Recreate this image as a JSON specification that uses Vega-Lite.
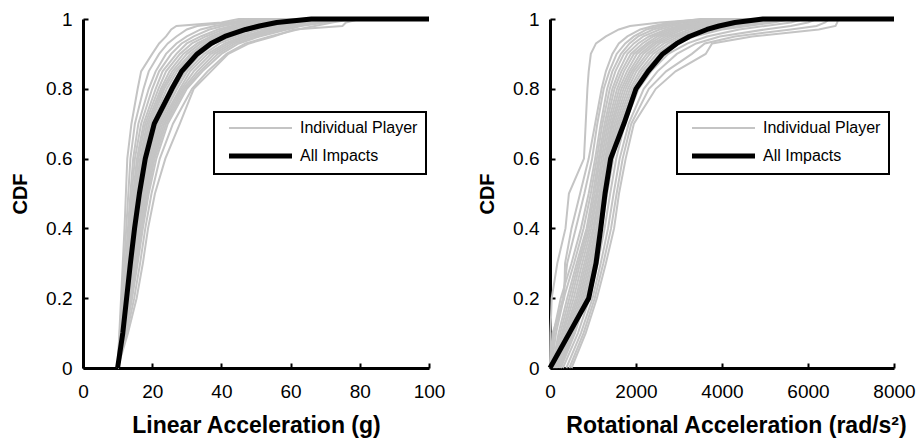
{
"$schema": "https://vega.github.io/schema/vega-lite/v6.json",
"background": "white",
"padding": {"left": 10, "top": 10, "right": 5, "bottom": 5},
"spacing": 121,
"bounds": "flush",
"resolve": {"scale": {"color": "independent"}, "legend": {"color": "independent"}},
"config": {
 "view": {"stroke": null},
 "font": "Liberation Sans",
 "axis": {"domainColor": "black", "domainWidth": 3, "tickColor": "black", "tickWidth": 2, "tickSize": -5, "labelColor": "black", "labelFont": "Liberation Sans", "labelFontSize": 19, "titleFont": "Liberation Sans", "titleFontWeight": "bold", "titleColor": "black", "grid": false, "labelFlush": false},
 "axisX": {"labelPadding": 19, "titlePadding": 13, "titleFontSize": 23},
 "axisY": {"labelPadding": 16, "titlePadding": 15, "titleFontSize": 20},
 "legend": {"orient": "none", "strokeColor": "black", "strokeWidth": 2, "fillColor": "white", "padding": 8, "labelFont": "Liberation Sans", "labelFontSize": 16, "labelColor": "black", "rowPadding": 10, "symbolType": "M -1 0 L 8 0", "symbolSize": 196, "symbolOffset": 6, "labelOffset": 56, "labelLimit": 300}
},
"datasets": {
 "who": [
  {"p":1,"s":"Individual Player"},{"p":2,"s":"Individual Player"},{"p":3,"s":"Individual Player"},{"p":4,"s":"Individual Player"},{"p":5,"s":"Individual Player"},{"p":6,"s":"Individual Player"},{"p":7,"s":"Individual Player"},{"p":8,"s":"Individual Player"},{"p":9,"s":"Individual Player"},{"p":10,"s":"Individual Player"},{"p":11,"s":"Individual Player"},{"p":12,"s":"Individual Player"},{"p":13,"s":"Individual Player"},{"p":14,"s":"Individual Player"},{"p":15,"s":"Individual Player"},{"p":16,"s":"Individual Player"},{"p":17,"s":"Individual Player"},{"p":18,"s":"Individual Player"},{"p":19,"s":"Individual Player"},{"p":20,"s":"Individual Player"},{"p":0,"s":"All Impacts"}
 ],
 "L": [
  {"p":1,"x":10,"y":0},{"p":1,"x":10.5,"y":0.1},{"p":1,"x":11,"y":0.2},{"p":1,"x":11.5,"y":0.3},{"p":1,"x":12,"y":0.4},{"p":1,"x":12.4,"y":0.5},{"p":1,"x":12.8,"y":0.6},{"p":1,"x":14,"y":0.7},{"p":1,"x":15.8,"y":0.8},{"p":1,"x":16.8,"y":0.85},{"p":1,"x":20,"y":0.9},{"p":1,"x":22,"y":0.93},{"p":1,"x":24,"y":0.95},{"p":1,"x":25.5,"y":0.97},{"p":1,"x":27,"y":0.98},{"p":1,"x":40,"y":0.99},{"p":1,"x":45,"y":1},{"p":1,"x":100,"y":1},
  {"p":2,"x":10,"y":0},{"p":2,"x":10.8,"y":0.1},{"p":2,"x":11.6,"y":0.2},{"p":2,"x":12.3,"y":0.3},{"p":2,"x":13,"y":0.4},{"p":2,"x":13.7,"y":0.5},{"p":2,"x":14.5,"y":0.6},{"p":2,"x":16,"y":0.7},{"p":2,"x":19,"y":0.8},{"p":2,"x":21,"y":0.85},{"p":2,"x":24,"y":0.9},{"p":2,"x":27,"y":0.93},{"p":2,"x":30,"y":0.95},{"p":2,"x":34,"y":0.97},{"p":2,"x":38,"y":0.98},{"p":2,"x":44,"y":0.99},{"p":2,"x":52,"y":1},{"p":2,"x":100,"y":1},
  {"p":3,"x":10,"y":0},{"p":3,"x":11,"y":0.1},{"p":3,"x":12,"y":0.2},{"p":3,"x":12.8,"y":0.3},{"p":3,"x":13.6,"y":0.4},{"p":3,"x":14.5,"y":0.5},{"p":3,"x":15.6,"y":0.6},{"p":3,"x":17.5,"y":0.7},{"p":3,"x":21,"y":0.8},{"p":3,"x":23,"y":0.85},{"p":3,"x":27,"y":0.9},{"p":3,"x":30,"y":0.93},{"p":3,"x":34,"y":0.95},{"p":3,"x":39,"y":0.97},{"p":3,"x":43,"y":0.98},{"p":3,"x":48,"y":0.99},{"p":3,"x":56,"y":1},{"p":3,"x":100,"y":1},
  {"p":4,"x":10,"y":0},{"p":4,"x":11.2,"y":0.1},{"p":4,"x":12.2,"y":0.2},{"p":4,"x":13.2,"y":0.3},{"p":4,"x":14.2,"y":0.4},{"p":4,"x":15.2,"y":0.5},{"p":4,"x":16.5,"y":0.6},{"p":4,"x":18.5,"y":0.7},{"p":4,"x":22.5,"y":0.8},{"p":4,"x":25,"y":0.85},{"p":4,"x":29,"y":0.9},{"p":4,"x":33,"y":0.93},{"p":4,"x":37,"y":0.95},{"p":4,"x":42,"y":0.97},{"p":4,"x":46,"y":0.98},{"p":4,"x":52,"y":0.99},{"p":4,"x":60,"y":1},{"p":4,"x":100,"y":1},
  {"p":5,"x":10,"y":0},{"p":5,"x":11.3,"y":0.1},{"p":5,"x":12.5,"y":0.2},{"p":5,"x":13.5,"y":0.3},{"p":5,"x":14.6,"y":0.4},{"p":5,"x":15.8,"y":0.5},{"p":5,"x":17.2,"y":0.6},{"p":5,"x":19.5,"y":0.7},{"p":5,"x":23.5,"y":0.8},{"p":5,"x":26.5,"y":0.85},{"p":5,"x":31,"y":0.9},{"p":5,"x":35,"y":0.93},{"p":5,"x":39,"y":0.95},{"p":5,"x":45,"y":0.97},{"p":5,"x":50,"y":0.98},{"p":5,"x":57,"y":0.99},{"p":5,"x":64,"y":1},{"p":5,"x":100,"y":1},
  {"p":6,"x":10,"y":0},{"p":6,"x":11.5,"y":0.1},{"p":6,"x":12.8,"y":0.2},{"p":6,"x":14,"y":0.3},{"p":6,"x":15.2,"y":0.4},{"p":6,"x":16.5,"y":0.5},{"p":6,"x":18,"y":0.6},{"p":6,"x":20.5,"y":0.7},{"p":6,"x":25,"y":0.8},{"p":6,"x":28,"y":0.85},{"p":6,"x":32,"y":0.9},{"p":6,"x":36,"y":0.93},{"p":6,"x":40,"y":0.95},{"p":6,"x":46,"y":0.97},{"p":6,"x":52,"y":0.98},{"p":6,"x":60,"y":0.99},{"p":6,"x":68,"y":1},{"p":6,"x":100,"y":1},
  {"p":7,"x":10,"y":0},{"p":7,"x":11.6,"y":0.1},{"p":7,"x":13,"y":0.2},{"p":7,"x":14.3,"y":0.3},{"p":7,"x":15.6,"y":0.4},{"p":7,"x":17,"y":0.5},{"p":7,"x":18.7,"y":0.6},{"p":7,"x":21.5,"y":0.7},{"p":7,"x":26.5,"y":0.8},{"p":7,"x":29.5,"y":0.85},{"p":7,"x":34,"y":0.9},{"p":7,"x":38,"y":0.93},{"p":7,"x":43,"y":0.95},{"p":7,"x":49,"y":0.97},{"p":7,"x":55,"y":0.98},{"p":7,"x":62,"y":0.99},{"p":7,"x":70,"y":1},{"p":7,"x":100,"y":1},
  {"p":8,"x":10,"y":0},{"p":8,"x":11.8,"y":0.1},{"p":8,"x":13.3,"y":0.2},{"p":8,"x":14.7,"y":0.3},{"p":8,"x":16,"y":0.4},{"p":8,"x":17.6,"y":0.5},{"p":8,"x":19.5,"y":0.6},{"p":8,"x":22.5,"y":0.7},{"p":8,"x":28,"y":0.8},{"p":8,"x":31,"y":0.85},{"p":8,"x":36,"y":0.9},{"p":8,"x":41,"y":0.93},{"p":8,"x":46,"y":0.95},{"p":8,"x":53,"y":0.97},{"p":8,"x":58,"y":0.98},{"p":8,"x":66,"y":0.99},{"p":8,"x":72,"y":1},{"p":8,"x":100,"y":1},
  {"p":9,"x":10,"y":0},{"p":9,"x":12,"y":0.1},{"p":9,"x":13.7,"y":0.2},{"p":9,"x":15.2,"y":0.3},{"p":9,"x":16.6,"y":0.4},{"p":9,"x":18.2,"y":0.5},{"p":9,"x":20.3,"y":0.6},{"p":9,"x":23.5,"y":0.7},{"p":9,"x":29,"y":0.8},{"p":9,"x":33,"y":0.85},{"p":9,"x":38,"y":0.9},{"p":9,"x":43,"y":0.93},{"p":9,"x":48,"y":0.95},{"p":9,"x":56,"y":0.97},{"p":9,"x":61,"y":0.98},{"p":9,"x":67,"y":0.99},{"p":9,"x":74,"y":1},{"p":9,"x":100,"y":1},
  {"p":10,"x":10,"y":0},{"p":10,"x":12.3,"y":0.1},{"p":10,"x":14.2,"y":0.2},{"p":10,"x":15.8,"y":0.3},{"p":10,"x":17.3,"y":0.4},{"p":10,"x":19,"y":0.5},{"p":10,"x":21.2,"y":0.6},{"p":10,"x":24.5,"y":0.7},{"p":10,"x":30,"y":0.8},{"p":10,"x":34.5,"y":0.85},{"p":10,"x":40,"y":0.9},{"p":10,"x":45,"y":0.93},{"p":10,"x":51,"y":0.95},{"p":10,"x":59,"y":0.97},{"p":10,"x":63,"y":0.98},{"p":10,"x":70,"y":0.99},{"p":10,"x":76,"y":1},{"p":10,"x":100,"y":1},
  {"p":11,"x":10,"y":0},{"p":11,"x":12.6,"y":0.1},{"p":11,"x":14.8,"y":0.2},{"p":11,"x":16.5,"y":0.3},{"p":11,"x":18,"y":0.4},{"p":11,"x":19.8,"y":0.5},{"p":11,"x":22.2,"y":0.6},{"p":11,"x":26,"y":0.7},{"p":11,"x":31.5,"y":0.8},{"p":11,"x":36,"y":0.85},{"p":11,"x":41.5,"y":0.9},{"p":11,"x":47,"y":0.93},{"p":11,"x":54,"y":0.95},{"p":11,"x":62,"y":0.97},{"p":11,"x":67,"y":0.98},{"p":11,"x":72,"y":0.99},{"p":11,"x":78,"y":1},{"p":11,"x":100,"y":1},
  {"p":12,"x":10,"y":0},{"p":12,"x":13,"y":0.1},{"p":12,"x":15.5,"y":0.2},{"p":12,"x":17.3,"y":0.3},{"p":12,"x":18.8,"y":0.4},{"p":12,"x":20.8,"y":0.5},{"p":12,"x":23.8,"y":0.6},{"p":12,"x":28,"y":0.7},{"p":12,"x":32,"y":0.8},{"p":12,"x":37,"y":0.85},{"p":12,"x":42,"y":0.9},{"p":12,"x":48,"y":0.93},{"p":12,"x":55,"y":0.95},{"p":12,"x":61,"y":0.97},{"p":12,"x":75,"y":0.98},{"p":12,"x":76,"y":0.99},{"p":12,"x":80,"y":1},{"p":12,"x":100,"y":1},
  {"p":13,"x":10,"y":0},{"p":13,"x":11.1,"y":0.1},{"p":13,"x":12.1,"y":0.2},{"p":13,"x":13,"y":0.3},{"p":13,"x":13.9,"y":0.4},{"p":13,"x":14.9,"y":0.5},{"p":13,"x":16,"y":0.6},{"p":13,"x":18,"y":0.7},{"p":13,"x":21.8,"y":0.8},{"p":13,"x":24,"y":0.85},{"p":13,"x":28,"y":0.9},{"p":13,"x":31.5,"y":0.93},{"p":13,"x":35.5,"y":0.95},{"p":13,"x":40.5,"y":0.97},{"p":13,"x":44.5,"y":0.98},{"p":13,"x":50,"y":0.99},{"p":13,"x":58,"y":1},{"p":13,"x":100,"y":1},
  {"p":14,"x":10,"y":0},{"p":14,"x":11.4,"y":0.1},{"p":14,"x":12.6,"y":0.2},{"p":14,"x":13.8,"y":0.3},{"p":14,"x":14.9,"y":0.4},{"p":14,"x":16.1,"y":0.5},{"p":14,"x":17.6,"y":0.6},{"p":14,"x":20,"y":0.7},{"p":14,"x":24.2,"y":0.8},{"p":14,"x":27.2,"y":0.85},{"p":14,"x":31.5,"y":0.9},{"p":14,"x":35.5,"y":0.93},{"p":14,"x":39.5,"y":0.95},{"p":14,"x":45.5,"y":0.97},{"p":14,"x":51,"y":0.98},{"p":14,"x":58,"y":0.99},{"p":14,"x":66,"y":1},{"p":14,"x":100,"y":1},
  {"p":15,"x":10,"y":0},{"p":15,"x":11.7,"y":0.1},{"p":15,"x":13.1,"y":0.2},{"p":15,"x":14.5,"y":0.3},{"p":15,"x":15.8,"y":0.4},{"p":15,"x":17.3,"y":0.5},{"p":15,"x":19.1,"y":0.6},{"p":15,"x":22,"y":0.7},{"p":15,"x":27.2,"y":0.8},{"p":15,"x":30.2,"y":0.85},{"p":15,"x":35,"y":0.9},{"p":15,"x":39.5,"y":0.93},{"p":15,"x":44.5,"y":0.95},{"p":15,"x":51,"y":0.97},{"p":15,"x":56.5,"y":0.98},{"p":15,"x":64,"y":0.99},{"p":15,"x":71,"y":1},{"p":15,"x":100,"y":1},
  {"p":16,"x":10,"y":0},{"p":16,"x":10.9,"y":0.1},{"p":16,"x":11.8,"y":0.2},{"p":16,"x":12.6,"y":0.3},{"p":16,"x":13.3,"y":0.4},{"p":16,"x":14.1,"y":0.5},{"p":16,"x":15,"y":0.6},{"p":16,"x":16.8,"y":0.7},{"p":16,"x":20,"y":0.8},{"p":16,"x":22,"y":0.85},{"p":16,"x":25.5,"y":0.9},{"p":16,"x":28.5,"y":0.93},{"p":16,"x":32,"y":0.95},{"p":16,"x":36.5,"y":0.97},{"p":16,"x":40.5,"y":0.98},{"p":16,"x":46,"y":0.99},{"p":16,"x":54,"y":1},{"p":16,"x":100,"y":1},
  {"p":17,"x":10,"y":0},{"p":17,"x":12.1,"y":0.1},{"p":17,"x":14,"y":0.2},{"p":17,"x":15.5,"y":0.3},{"p":17,"x":17,"y":0.4},{"p":17,"x":18.6,"y":0.5},{"p":17,"x":20.7,"y":0.6},{"p":17,"x":24,"y":0.7},{"p":17,"x":29.5,"y":0.8},{"p":17,"x":33.8,"y":0.85},{"p":17,"x":39,"y":0.9},{"p":17,"x":44,"y":0.93},{"p":17,"x":49.5,"y":0.95},{"p":17,"x":57.5,"y":0.97},{"p":17,"x":62,"y":0.98},{"p":17,"x":68.5,"y":0.99},{"p":17,"x":75,"y":1},{"p":17,"x":100,"y":1},
  {"p":18,"x":10,"y":0},{"p":18,"x":10.6,"y":0.1},{"p":18,"x":11.3,"y":0.2},{"p":18,"x":11.9,"y":0.3},{"p":18,"x":12.5,"y":0.4},{"p":18,"x":13.1,"y":0.5},{"p":18,"x":13.7,"y":0.6},{"p":18,"x":15,"y":0.7},{"p":18,"x":17.5,"y":0.8},{"p":18,"x":19,"y":0.85},{"p":18,"x":22,"y":0.9},{"p":18,"x":24.5,"y":0.93},{"p":18,"x":27,"y":0.95},{"p":18,"x":30,"y":0.97},{"p":18,"x":33,"y":0.98},{"p":18,"x":42,"y":0.99},{"p":18,"x":48,"y":1},{"p":18,"x":100,"y":1},
  {"p":19,"x":10,"y":0},{"p":19,"x":11.9,"y":0.1},{"p":19,"x":13.5,"y":0.2},{"p":19,"x":15,"y":0.3},{"p":19,"x":16.3,"y":0.4},{"p":19,"x":17.9,"y":0.5},{"p":19,"x":19.9,"y":0.6},{"p":19,"x":23,"y":0.7},{"p":19,"x":28.5,"y":0.8},{"p":19,"x":32,"y":0.85},{"p":19,"x":37,"y":0.9},{"p":19,"x":42,"y":0.93},{"p":19,"x":47,"y":0.95},{"p":19,"x":54.5,"y":0.97},{"p":19,"x":59.5,"y":0.98},{"p":19,"x":66.5,"y":0.99},{"p":19,"x":73,"y":1},{"p":19,"x":100,"y":1},
  {"p":20,"x":10,"y":0},{"p":20,"x":11.25,"y":0.1},{"p":20,"x":12.35,"y":0.2},{"p":20,"x":13.35,"y":0.3},{"p":20,"x":14.4,"y":0.4},{"p":20,"x":15.5,"y":0.5},{"p":20,"x":16.85,"y":0.6},{"p":20,"x":19,"y":0.7},{"p":20,"x":23,"y":0.8},{"p":20,"x":25.8,"y":0.85},{"p":20,"x":30,"y":0.9},{"p":20,"x":34,"y":0.93},{"p":20,"x":38,"y":0.95},{"p":20,"x":43.5,"y":0.97},{"p":20,"x":48,"y":0.98},{"p":20,"x":54.5,"y":0.99},{"p":20,"x":62,"y":1},{"p":20,"x":100,"y":1}
 ],
 "LA": [
  {"p":0,"x":10,"y":0},{"p":0,"x":11.5,"y":0.1},{"p":0,"x":12.6,"y":0.2},{"p":0,"x":13.7,"y":0.3},{"p":0,"x":14.9,"y":0.4},{"p":0,"x":16.3,"y":0.5},{"p":0,"x":18,"y":0.6},{"p":0,"x":20.6,"y":0.7},{"p":0,"x":25.7,"y":0.8},{"p":0,"x":28.5,"y":0.85},{"p":0,"x":33,"y":0.9},{"p":0,"x":37,"y":0.93},{"p":0,"x":41,"y":0.95},{"p":0,"x":47,"y":0.97},{"p":0,"x":51,"y":0.98},{"p":0,"x":56,"y":0.99},{"p":0,"x":66,"y":1},{"p":0,"x":100,"y":1}
 ],
 "R": [
  {"p":1,"x":0,"y":0},{"p":1,"x":10,"y":0.1},{"p":1,"x":40,"y":0.2},{"p":1,"x":170,"y":0.3},{"p":1,"x":360,"y":0.4},{"p":1,"x":440,"y":0.5},{"p":1,"x":790,"y":0.6},{"p":1,"x":830,"y":0.7},{"p":1,"x":870,"y":0.8},{"p":1,"x":900,"y":0.85},{"p":1,"x":950,"y":0.9},{"p":1,"x":1070,"y":0.93},{"p":1,"x":1300,"y":0.95},{"p":1,"x":1600,"y":0.97},{"p":1,"x":1860,"y":0.98},{"p":1,"x":2560,"y":0.99},{"p":1,"x":3640,"y":1},{"p":1,"x":8000,"y":1},
  {"p":2,"x":1,"y":0},{"p":2,"x":80,"y":0.1},{"p":2,"x":250,"y":0.2},{"p":2,"x":500,"y":0.3},{"p":2,"x":720,"y":0.4},{"p":2,"x":900,"y":0.5},{"p":2,"x":1050,"y":0.6},{"p":2,"x":1180,"y":0.7},{"p":2,"x":1330,"y":0.8},{"p":2,"x":1450,"y":0.85},{"p":2,"x":1650,"y":0.9},{"p":2,"x":1850,"y":0.93},{"p":2,"x":2050,"y":0.95},{"p":2,"x":2400,"y":0.97},{"p":2,"x":2700,"y":0.98},{"p":2,"x":3100,"y":0.99},{"p":2,"x":3800,"y":1},{"p":2,"x":8000,"y":1},
  {"p":3,"x":50,"y":0},{"p":3,"x":200,"y":0.1},{"p":3,"x":400,"y":0.2},{"p":3,"x":620,"y":0.3},{"p":3,"x":850,"y":0.4},{"p":3,"x":1000,"y":0.5},{"p":3,"x":1130,"y":0.6},{"p":3,"x":1270,"y":0.7},{"p":3,"x":1450,"y":0.8},{"p":3,"x":1600,"y":0.85},{"p":3,"x":1800,"y":0.9},{"p":3,"x":2050,"y":0.93},{"p":3,"x":2300,"y":0.95},{"p":3,"x":2700,"y":0.97},{"p":3,"x":3000,"y":0.98},{"p":3,"x":3500,"y":0.99},{"p":3,"x":4200,"y":1},{"p":3,"x":8000,"y":1},
  {"p":4,"x":80,"y":0},{"p":4,"x":280,"y":0.1},{"p":4,"x":500,"y":0.2},{"p":4,"x":700,"y":0.3},{"p":4,"x":920,"y":0.4},{"p":4,"x":1080,"y":0.5},{"p":4,"x":1200,"y":0.6},{"p":4,"x":1350,"y":0.7},{"p":4,"x":1560,"y":0.8},{"p":4,"x":1720,"y":0.85},{"p":4,"x":1950,"y":0.9},{"p":4,"x":2250,"y":0.93},{"p":4,"x":2500,"y":0.95},{"p":4,"x":2900,"y":0.97},{"p":4,"x":3200,"y":0.98},{"p":4,"x":3800,"y":0.99},{"p":4,"x":4500,"y":1},{"p":4,"x":8000,"y":1},
  {"p":5,"x":120,"y":0},{"p":5,"x":350,"y":0.1},{"p":5,"x":600,"y":0.2},{"p":5,"x":800,"y":0.3},{"p":5,"x":1000,"y":0.4},{"p":5,"x":1150,"y":0.5},{"p":5,"x":1280,"y":0.6},{"p":5,"x":1430,"y":0.7},{"p":5,"x":1660,"y":0.8},{"p":5,"x":1850,"y":0.85},{"p":5,"x":2100,"y":0.9},{"p":5,"x":2400,"y":0.93},{"p":5,"x":2700,"y":0.95},{"p":5,"x":3100,"y":0.97},{"p":5,"x":3500,"y":0.98},{"p":5,"x":4100,"y":0.99},{"p":5,"x":4800,"y":1},{"p":5,"x":8000,"y":1},
  {"p":6,"x":150,"y":0},{"p":6,"x":420,"y":0.1},{"p":6,"x":680,"y":0.2},{"p":6,"x":880,"y":0.3},{"p":6,"x":1070,"y":0.4},{"p":6,"x":1210,"y":0.5},{"p":6,"x":1340,"y":0.6},{"p":6,"x":1500,"y":0.7},{"p":6,"x":1760,"y":0.8},{"p":6,"x":1950,"y":0.85},{"p":6,"x":2250,"y":0.9},{"p":6,"x":2550,"y":0.93},{"p":6,"x":2900,"y":0.95},{"p":6,"x":3400,"y":0.97},{"p":6,"x":3800,"y":0.98},{"p":6,"x":4400,"y":0.99},{"p":6,"x":5100,"y":1},{"p":6,"x":8000,"y":1},
  {"p":7,"x":200,"y":0},{"p":7,"x":500,"y":0.1},{"p":7,"x":760,"y":0.2},{"p":7,"x":960,"y":0.3},{"p":7,"x":1130,"y":0.4},{"p":7,"x":1270,"y":0.5},{"p":7,"x":1400,"y":0.6},{"p":7,"x":1580,"y":0.7},{"p":7,"x":1860,"y":0.8},{"p":7,"x":2080,"y":0.85},{"p":7,"x":2400,"y":0.9},{"p":7,"x":2750,"y":0.93},{"p":7,"x":3100,"y":0.95},{"p":7,"x":3700,"y":0.97},{"p":7,"x":4200,"y":0.98},{"p":7,"x":4800,"y":0.99},{"p":7,"x":5400,"y":1},{"p":7,"x":8000,"y":1},
  {"p":8,"x":250,"y":0},{"p":8,"x":580,"y":0.1},{"p":8,"x":840,"y":0.2},{"p":8,"x":1040,"y":0.3},{"p":8,"x":1200,"y":0.4},{"p":8,"x":1330,"y":0.5},{"p":8,"x":1470,"y":0.6},{"p":8,"x":1660,"y":0.7},{"p":8,"x":1960,"y":0.8},{"p":8,"x":2200,"y":0.85},{"p":8,"x":2550,"y":0.9},{"p":8,"x":2950,"y":0.93},{"p":8,"x":3350,"y":0.95},{"p":8,"x":4000,"y":0.97},{"p":8,"x":4600,"y":0.98},{"p":8,"x":5200,"y":0.99},{"p":8,"x":5600,"y":1},{"p":8,"x":8000,"y":1},
  {"p":9,"x":300,"y":0},{"p":9,"x":650,"y":0.1},{"p":9,"x":920,"y":0.2},{"p":9,"x":1110,"y":0.3},{"p":9,"x":1270,"y":0.4},{"p":9,"x":1400,"y":0.5},{"p":9,"x":1540,"y":0.6},{"p":9,"x":1740,"y":0.7},{"p":9,"x":2060,"y":0.8},{"p":9,"x":2350,"y":0.85},{"p":9,"x":2750,"y":0.9},{"p":9,"x":3200,"y":0.93},{"p":9,"x":3650,"y":0.95},{"p":9,"x":4400,"y":0.97},{"p":9,"x":5000,"y":0.98},{"p":9,"x":5600,"y":0.99},{"p":9,"x":5900,"y":1},{"p":9,"x":8000,"y":1},
  {"p":10,"x":380,"y":0},{"p":10,"x":720,"y":0.1},{"p":10,"x":990,"y":0.2},{"p":10,"x":1180,"y":0.3},{"p":10,"x":1350,"y":0.4},{"p":10,"x":1480,"y":0.5},{"p":10,"x":1620,"y":0.6},{"p":10,"x":1830,"y":0.7},{"p":10,"x":2180,"y":0.8},{"p":10,"x":2500,"y":0.85},{"p":10,"x":2950,"y":0.9},{"p":10,"x":3400,"y":0.93},{"p":10,"x":3950,"y":0.95},{"p":10,"x":5000,"y":0.97},{"p":10,"x":5600,"y":0.98},{"p":10,"x":6000,"y":0.99},{"p":10,"x":6200,"y":1},{"p":10,"x":8000,"y":1},
  {"p":11,"x":450,"y":0},{"p":11,"x":780,"y":0.1},{"p":11,"x":1040,"y":0.2},{"p":11,"x":1240,"y":0.3},{"p":11,"x":1420,"y":0.4},{"p":11,"x":1550,"y":0.5},{"p":11,"x":1690,"y":0.6},{"p":11,"x":1890,"y":0.7},{"p":11,"x":2300,"y":0.8},{"p":11,"x":2700,"y":0.85},{"p":11,"x":3300,"y":0.9},{"p":11,"x":3600,"y":0.93},{"p":11,"x":4300,"y":0.95},{"p":11,"x":5600,"y":0.97},{"p":11,"x":6200,"y":0.98},{"p":11,"x":6400,"y":0.99},{"p":11,"x":6500,"y":1},{"p":11,"x":8000,"y":1},
  {"p":12,"x":500,"y":0},{"p":12,"x":830,"y":0.1},{"p":12,"x":1090,"y":0.2},{"p":12,"x":1300,"y":0.3},{"p":12,"x":1490,"y":0.4},{"p":12,"x":1605,"y":0.5},{"p":12,"x":1760,"y":0.6},{"p":12,"x":1950,"y":0.7},{"p":12,"x":2460,"y":0.8},{"p":12,"x":2920,"y":0.85},{"p":12,"x":3620,"y":0.9},{"p":12,"x":3770,"y":0.93},{"p":12,"x":4700,"y":0.95},{"p":12,"x":6250,"y":0.97},{"p":12,"x":6640,"y":0.98},{"p":12,"x":6680,"y":0.99},{"p":12,"x":6700,"y":1},{"p":12,"x":8000,"y":1},
  {"p":13,"x":30,"y":0},{"p":13,"x":140,"y":0.1},{"p":13,"x":320,"y":0.2},{"p":13,"x":560,"y":0.3},{"p":13,"x":780,"y":0.4},{"p":13,"x":950,"y":0.5},{"p":13,"x":1090,"y":0.6},{"p":13,"x":1220,"y":0.7},{"p":13,"x":1390,"y":0.8},{"p":13,"x":1520,"y":0.85},{"p":13,"x":1720,"y":0.9},{"p":13,"x":1950,"y":0.93},{"p":13,"x":2170,"y":0.95},{"p":13,"x":2550,"y":0.97},{"p":13,"x":2850,"y":0.98},{"p":13,"x":3300,"y":0.99},{"p":13,"x":4000,"y":1},{"p":13,"x":8000,"y":1},
  {"p":14,"x":100,"y":0},{"p":14,"x":310,"y":0.1},{"p":14,"x":550,"y":0.2},{"p":14,"x":750,"y":0.3},{"p":14,"x":960,"y":0.4},{"p":14,"x":1110,"y":0.5},{"p":14,"x":1240,"y":0.6},{"p":14,"x":1390,"y":0.7},{"p":14,"x":1610,"y":0.8},{"p":14,"x":1790,"y":0.85},{"p":14,"x":2020,"y":0.9},{"p":14,"x":2320,"y":0.93},{"p":14,"x":2600,"y":0.95},{"p":14,"x":3000,"y":0.97},{"p":14,"x":3350,"y":0.98},{"p":14,"x":3950,"y":0.99},{"p":14,"x":4650,"y":1},{"p":14,"x":8000,"y":1},
  {"p":15,"x":170,"y":0},{"p":15,"x":460,"y":0.1},{"p":15,"x":720,"y":0.2},{"p":15,"x":920,"y":0.3},{"p":15,"x":1100,"y":0.4},{"p":15,"x":1240,"y":0.5},{"p":15,"x":1370,"y":0.6},{"p":15,"x":1540,"y":0.7},{"p":15,"x":1810,"y":0.8},{"p":15,"x":2010,"y":0.85},{"p":15,"x":2320,"y":0.9},{"p":15,"x":2650,"y":0.93},{"p":15,"x":3000,"y":0.95},{"p":15,"x":3550,"y":0.97},{"p":15,"x":4000,"y":0.98},{"p":15,"x":4600,"y":0.99},{"p":15,"x":5250,"y":1},{"p":15,"x":8000,"y":1},
  {"p":16,"x":10,"y":0},{"p":16,"x":100,"y":0.1},{"p":16,"x":300,"y":0.2},{"p":16,"x":400,"y":0.3},{"p":16,"x":600,"y":0.4},{"p":16,"x":800,"y":0.5},{"p":16,"x":980,"y":0.6},{"p":16,"x":1100,"y":0.7},{"p":16,"x":1250,"y":0.8},{"p":16,"x":1380,"y":0.85},{"p":16,"x":1550,"y":0.9},{"p":16,"x":1750,"y":0.93},{"p":16,"x":1950,"y":0.95},{"p":16,"x":2250,"y":0.97},{"p":16,"x":2550,"y":0.98},{"p":16,"x":2950,"y":0.99},{"p":16,"x":3700,"y":1},{"p":16,"x":8000,"y":1},
  {"p":17,"x":220,"y":0},{"p":17,"x":540,"y":0.1},{"p":17,"x":800,"y":0.2},{"p":17,"x":1000,"y":0.3},{"p":17,"x":1160,"y":0.4},{"p":17,"x":1300,"y":0.5},{"p":17,"x":1440,"y":0.6},{"p":17,"x":1620,"y":0.7},{"p":17,"x":1910,"y":0.8},{"p":17,"x":2140,"y":0.85},{"p":17,"x":2480,"y":0.9},{"p":17,"x":2850,"y":0.93},{"p":17,"x":3230,"y":0.95},{"p":17,"x":3850,"y":0.97},{"p":17,"x":4400,"y":0.98},{"p":17,"x":5000,"y":0.99},{"p":17,"x":5500,"y":1},{"p":17,"x":8000,"y":1},
  {"p":18,"x":60,"y":0},{"p":18,"x":240,"y":0.1},{"p":18,"x":450,"y":0.2},{"p":18,"x":660,"y":0.3},{"p":18,"x":880,"y":0.4},{"p":18,"x":1040,"y":0.5},{"p":18,"x":1160,"y":0.6},{"p":18,"x":1310,"y":0.7},{"p":18,"x":1500,"y":0.8},{"p":18,"x":1660,"y":0.85},{"p":18,"x":1880,"y":0.9},{"p":18,"x":2150,"y":0.93},{"p":18,"x":2400,"y":0.95},{"p":18,"x":2800,"y":0.97},{"p":18,"x":3100,"y":0.98},{"p":18,"x":3650,"y":0.99},{"p":18,"x":4350,"y":1},{"p":18,"x":8000,"y":1},
  {"p":19,"x":5,"y":0},{"p":19,"x":60,"y":0.1},{"p":19,"x":330,"y":0.2},{"p":19,"x":350,"y":0.3},{"p":19,"x":500,"y":0.4},{"p":19,"x":700,"y":0.5},{"p":19,"x":900,"y":0.6},{"p":19,"x":1050,"y":0.7},{"p":19,"x":1200,"y":0.8},{"p":19,"x":1300,"y":0.85},{"p":19,"x":1450,"y":0.9},{"p":19,"x":1600,"y":0.93},{"p":19,"x":1800,"y":0.95},{"p":19,"x":2100,"y":0.97},{"p":19,"x":2400,"y":0.98},{"p":19,"x":2800,"y":0.99},{"p":19,"x":3500,"y":1},{"p":19,"x":8000,"y":1},
  {"p":20,"x":130,"y":0},{"p":20,"x":380,"y":0.1},{"p":20,"x":640,"y":0.2},{"p":20,"x":840,"y":0.3},{"p":20,"x":1030,"y":0.4},{"p":20,"x":1180,"y":0.5},{"p":20,"x":1310,"y":0.6},{"p":20,"x":1460,"y":0.7},{"p":20,"x":1710,"y":0.8},{"p":20,"x":1900,"y":0.85},{"p":20,"x":2170,"y":0.9},{"p":20,"x":2470,"y":0.93},{"p":20,"x":2800,"y":0.95},{"p":20,"x":3250,"y":0.97},{"p":20,"x":3650,"y":0.98},{"p":20,"x":4250,"y":0.99},{"p":20,"x":4950,"y":1},{"p":20,"x":8000,"y":1}
 ],
 "RA": [
  {"p":0,"x":0,"y":0},{"p":0,"x":450,"y":0.1},{"p":0,"x":900,"y":0.2},{"p":0,"x":1070,"y":0.3},{"p":0,"x":1180,"y":0.4},{"p":0,"x":1280,"y":0.5},{"p":0,"x":1410,"y":0.6},{"p":0,"x":1720,"y":0.7},{"p":0,"x":2000,"y":0.8},{"p":0,"x":2280,"y":0.85},{"p":0,"x":2620,"y":0.9},{"p":0,"x":2950,"y":0.93},{"p":0,"x":3240,"y":0.95},{"p":0,"x":3650,"y":0.97},{"p":0,"x":3930,"y":0.98},{"p":0,"x":4300,"y":0.99},{"p":0,"x":4950,"y":1},{"p":0,"x":8000,"y":1}
 ]
},
"hconcat": [
 {
  "width": 346, "height": 349,
  "layer": [
   {"data": {"name": "L"},
    "transform": [{"lookup": "p", "from": {"data": {"name": "who"}, "key": "p", "fields": ["s"]}}],
    "mark": {"type": "line", "strokeWidth": 2},
    "encoding": {
     "x": {"field": "x", "type": "quantitative", "scale": {"domain": [0, 100], "nice": false}, "axis": {"values": [0, 20, 40, 60, 80, 100], "title": "Linear Acceleration (g)"}},
     "y": {"field": "y", "type": "quantitative", "scale": {"domain": [0, 1], "nice": false}, "axis": {"values": [0, 0.2, 0.4, 0.6, 0.8, 1], "format": "~g", "title": "CDF"}},
     "detail": {"field": "p", "type": "nominal"},
     "color": {"field": "s", "type": "nominal", "scale": {"domain": ["Individual Player", "All Impacts"], "range": ["#c4c4c4", "#000000"]}, "legend": {"title": null, "orient": "none", "legendX": 131, "legendY": 93, "encode": {"symbols": {"update": {"strokeWidth": {"signal": "datum.value === 'All Impacts' ? 5 : 2"}}}}}}
    }},
   {"data": {"name": "LA"},
    "transform": [{"lookup": "p", "from": {"data": {"name": "who"}, "key": "p", "fields": ["s"]}}],
    "mark": {"type": "line", "strokeWidth": 5, "strokeJoin": "round"},
    "encoding": {
     "x": {"field": "x", "type": "quantitative"},
     "y": {"field": "y", "type": "quantitative"},
     "color": {"field": "s", "type": "nominal", "legend": {"title": null, "orient": "none", "legendX": 131, "legendY": 93, "encode": {"symbols": {"update": {"strokeWidth": {"signal": "datum.value === 'All Impacts' ? 5 : 2"}}}}}}
    }}
  ]
 },
 {
  "width": 344, "height": 349,
  "layer": [
   {"data": {"name": "R"},
    "transform": [{"lookup": "p", "from": {"data": {"name": "who"}, "key": "p", "fields": ["s"]}}],
    "mark": {"type": "line", "strokeWidth": 2},
    "encoding": {
     "x": {"field": "x", "type": "quantitative", "scale": {"domain": [0, 8000], "nice": false}, "axis": {"values": [0, 2000, 4000, 6000, 8000], "format": "d", "title": "Rotational Acceleration (rad/s²)", "titleX": 186}},
     "y": {"field": "y", "type": "quantitative", "scale": {"domain": [0, 1], "nice": false}, "axis": {"values": [0, 0.2, 0.4, 0.6, 0.8, 1], "format": "~g", "title": "CDF"}},
     "detail": {"field": "p", "type": "nominal"},
     "color": {"field": "s", "type": "nominal", "scale": {"domain": ["Individual Player", "All Impacts"], "range": ["#c4c4c4", "#000000"]}, "legend": {"title": null, "orient": "none", "legendX": 127, "legendY": 93, "encode": {"symbols": {"update": {"strokeWidth": {"signal": "datum.value === 'All Impacts' ? 5 : 2"}}}}}}
    }},
   {"data": {"name": "RA"},
    "transform": [{"lookup": "p", "from": {"data": {"name": "who"}, "key": "p", "fields": ["s"]}}],
    "mark": {"type": "line", "strokeWidth": 5, "strokeJoin": "round"},
    "encoding": {
     "x": {"field": "x", "type": "quantitative"},
     "y": {"field": "y", "type": "quantitative"},
     "color": {"field": "s", "type": "nominal", "legend": {"title": null, "orient": "none", "legendX": 127, "legendY": 93, "encode": {"symbols": {"update": {"strokeWidth": {"signal": "datum.value === 'All Impacts' ? 5 : 2"}}}}}}
    }}
  ]
 }
]
}
